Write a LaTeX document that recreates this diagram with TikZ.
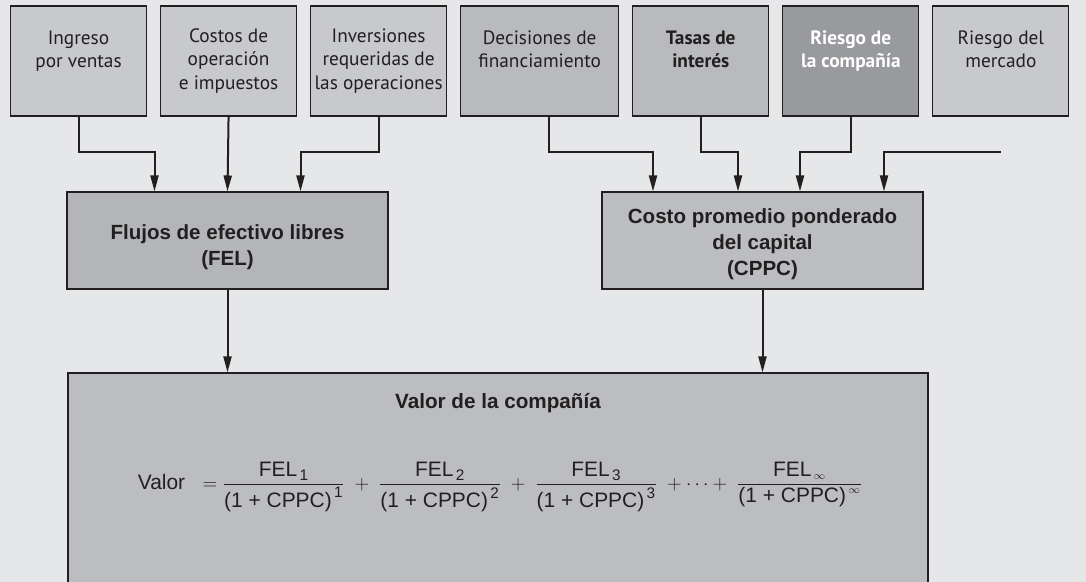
\documentclass[tikz,border=0pt]{standalone}
\usepackage{fontspec}
\setmainfont{Liberation Sans}
\newfontfamily\topfont{PT Sans}
\usepackage{amsmath}
\usetikzlibrary{arrows.meta,calc,positioning}

\definecolor{pagegray}{RGB}{230,231,233}
\definecolor{boxlight}{RGB}{200,201,204}
\definecolor{boxmid}{RGB}{185,186,189}
\definecolor{boxdark}{RGB}{152,154,157}
\definecolor{felgray}{RGB}{180,181,184}
\definecolor{cppcgray}{RGB}{188,189,192}
\definecolor{inkgray}{RGB}{35,31,32}

\newcommand{\felterm}[1]{\dfrac{\mbox{FEL}_{\,\mbox{\fontsize{11.5}{11.5}\selectfont #1}}}{\mbox{(1 + CPPC)}^{\,\mbox{\fontsize{11.5}{11.5}\selectfont #1}}}}

\begin{document}
\begin{tikzpicture}[x=0.75pt,y=-0.75pt]
	\tikzstyle{topbox}=[rectangle, draw=inkgray, line width=0.8pt, fill=boxlight, minimum width=102pt, minimum height=82.5pt, align=center, inner sep=0pt, text=inkgray, font=\topfont\fontsize{14.5}{17.6pt}\selectfont]
	\tikzstyle{midbox}=[rectangle, draw=inkgray, line width=0.8pt, minimum width=240.75pt, minimum height=72.75pt, inner sep=0pt]
	\tikzstyle{midtext}=[align=center, inner sep=0pt, text=inkgray, font=\bfseries\fontsize{15.4}{19.5pt}\selectfont]
	\tikzstyle{arr}=[line width=1.5pt, draw=inkgray, -{Triangle[length=12pt,width=6pt]}]

	\fill[pagegray] (0,0) rectangle (1086,582);
	\useasboundingbox (0,0) rectangle (1086,582);

	% factores de arriba
	\node[topbox] (ingreso) at (78.5,61) {Ingreso\\por ventas\\\mbox{}};
	\node[topbox, right=9.75pt of ingreso] (costos) {Costos de\\operación\\e impuestos};
	\node[topbox, right=9.75pt of costos] (inversion) {Inversiones\\requeridas de\\las operaciones};
	\node[topbox, right=9.75pt of inversion, fill=boxmid, minimum width=118.5pt] (decision) {Decisiones de\\financiamiento\\\mbox{}};
	\node[topbox, right=9.75pt of decision, fill=boxmid] (tasas) {\bfseries Tasas de\\\bfseries interés\\\mbox{}};
	\node[topbox, right=9.75pt of tasas, fill=boxdark, text=white] (riesgoc) {\bfseries Riesgo de\\\bfseries la compañía\\\mbox{}};
	\node[topbox, right=9.75pt of riesgoc] (riesgom) {Riesgo del\\mercado\\\mbox{}};

	% cajas del medio
	\node[midbox, fill=felgray] (fel) at (227.5,240.5) {};
	\node[midtext] (feltext) at (227.5,247.5) {Flujos de efectivo libres\\(FEL)};
	\node[midbox, fill=cppcgray] (cppc) at (762.5,240.5) {};
	\node[midtext] (cppctext) at (762.5,244) {Costo promedio ponderado\\del capital\\(CPPC)};

	% valor
	\node[rectangle, draw=inkgray, line width=0.8pt, fill=cppcgray, minimum width=645pt, minimum height=170.25pt, inner sep=0pt] (valor) at (498,486.5) {};
	\node[text=inkgray, font=\bfseries\fontsize{15.5}{19pt}\selectfont] (titulo) at (498,403) {Valor de la compañía};
	\node[text=inkgray, font=\fontsize{15.7}{19pt}\selectfont] (formula) at (500,487)
		{Valor\ \ \ $\displaystyle = \felterm{1} \;+\; \felterm{2} \;+\; \felterm{3} \;+ \cdots +\; \felterm{$\scriptstyle\infty$}$};

	\coordinate (lvl) at (0,152);

	% flechas
	\draw[arr] (ingreso.south) -- (ingreso.south |- lvl) -| ($(fel.north)+(-73,0)$);
	\draw[arr] (costos.south) -- (fel.north);
	\draw[arr] (inversion.south) -- (inversion.south |- lvl) -| ($(fel.north)+(73,0)$);
	\draw[arr] ($(decision.south)+(9,0)$) -- ($(decision.south |- lvl)+(9,0)$) -| ($(cppc.north)+(-109.5,0)$);
	\draw[arr] (tasas.south) -- (tasas.south |- lvl) -| ($(cppc.north)+(-24.5,0)$);
	\draw[arr] (riesgoc.south) -- (riesgoc.south |- lvl) -| ($(cppc.north)+(37.5,0)$);
	\draw[arr] (riesgom.south |- lvl) -| ($(cppc.north)+(121.5,0)$);
	\draw[arr] (fel.south) -- (fel.south |- valor.north);
	\draw[arr] (cppc.south) -- (cppc.south |- valor.north);
\end{tikzpicture}
\end{document}
